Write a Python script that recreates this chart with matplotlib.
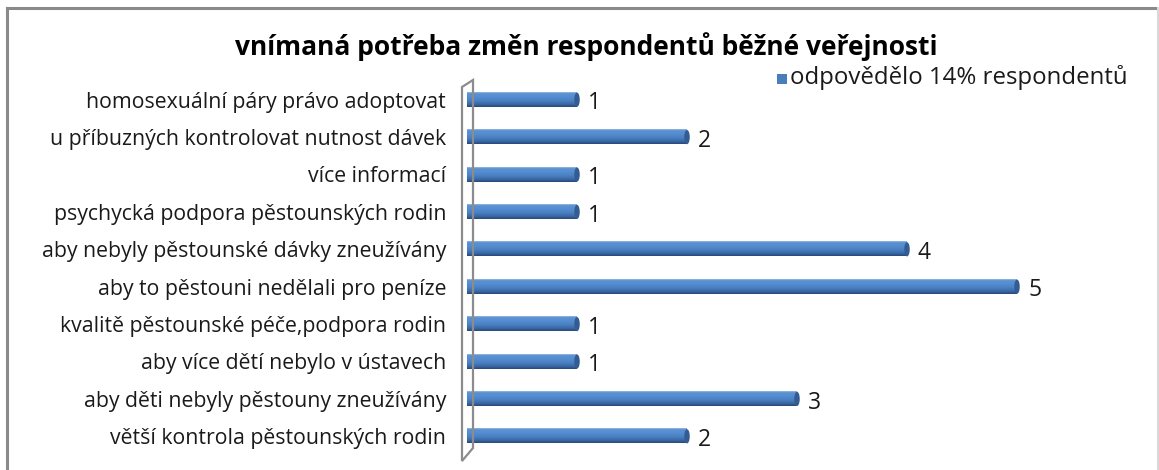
import matplotlib
matplotlib.use("Agg")
import matplotlib.pyplot as plt
import numpy as np
from matplotlib.colors import LinearSegmentedColormap
from matplotlib.patches import Polygon
from matplotlib.lines import Line2D

title = "vnímaná potřeba změn respondentů běžné veřejnosti"
series_name = "odpovědělo 14% respondentů"
categories = [
    "větší kontrola pěstounských rodin",
    "aby děti nebyly pěstouny zneužívány",
    "aby více dětí nebylo v ústavech",
    "kvalitě pěstounské péče,podpora rodin",
    "aby to pěstouni nedělali pro peníze",
    "aby nebyly pěstounské dávky zneužívány",
    "psychycká podpora pěstounských rodin",
    "více informací",
    "u příbuzných kontrolovat nutnost dávek",
    "homosexuální páry právo adoptovat",
]
values = [2, 3, 1, 1, 5, 4, 1, 1, 2, 1]

W, H = 1159, 470
fig = plt.figure(figsize=(W / 100, H / 100), dpi=100)
FONT = "Open Sans"

def fx(px):
    return px / W

def fy(py):
    return 1 - py / H

ax_left, ax_right = 467, 1127
ax_top, ax_bottom = 81, 455
ax = fig.add_axes([fx(ax_left), fy(ax_bottom), fx(ax_right - ax_left), (ax_bottom - ax_top) / H])
ax.set_xlim(0, 6)
ax.set_ylim(-0.5, len(categories) - 0.5)
ax.patch.set_alpha(0)
for s in ax.spines.values():
    s.set_visible(False)
ax.set_xticks([])
ax.set_yticks(range(len(categories)))
ax.set_yticklabels(categories, fontsize=15.3, family=FONT, color="#1a1a1a")
ax.tick_params(axis="y", length=0, pad=15)

# 3D wall outline
wall = Polygon([(fx(462), fy(87)), (fx(473), fy(80)), (fx(473), fy(448)),
                (fx(462), fy(461))], closed=True, transform=fig.transFigure,
               fill=False, edgecolor="#8c8c8c", lw=1.6, zorder=1)
fig.patches.append(wall)

cmap = LinearSegmentedColormap.from_list(
    "cyl", [(0.0, "#27497a"), (0.2, "#3b6ba8"), (0.45, "#4c82c4"),
            (0.75, "#5690d3"), (0.9, "#5a8fcf"), (1.0, "#9bbbe3")])
grad = np.linspace(0, 1, 64).reshape(-1, 1)
bh = 0.38
for i, v in enumerate(values):
    ax.imshow(grad, cmap=cmap, aspect="auto", extent=[0, v, i - bh / 2, i + bh / 2],
              origin="lower", zorder=3, interpolation="bilinear")
    ax.add_patch(matplotlib.patches.Ellipse((v, i), 0.05, bh, facecolor="#335d92",
                                            edgecolor="none", zorder=4))
    ax.text(v + 0.1, i - 0.1, str(v), va="center", ha="left", fontsize=16.5,
            family=FONT, color="#1a1a1a")

fig.text(fx(586), fy(47), title, ha="center", va="center", fontsize=19,
         fontweight="bold", family=FONT, color="#000000")

# legend
fig.patches.append(matplotlib.patches.Rectangle((fx(777), fy(84)), fx(10), 10 / H,
                                                transform=fig.transFigure,
                                                facecolor="#4a7ebb", edgecolor="none"))
fig.text(fx(790), fy(77), series_name, ha="left", va="center", fontsize=17.3,
         family=FONT, color="#1a1a1a")

# chart area border
fig.add_artist(Line2D([fx(7), fx(7)], [0, fy(8)], transform=fig.transFigure,
                      color="#8a8a8a", lw=2.2))
fig.add_artist(Line2D([fx(7), fx(1158)], [fy(8), fy(8)], transform=fig.transFigure,
                      color="#8a8a8a", lw=2.2))
fig.add_artist(Line2D([fx(1158), fx(1158)], [0, fy(8)], transform=fig.transFigure,
                      color="#d9d9d9", lw=1.5))

fig.savefig("out.png", dpi=100)
